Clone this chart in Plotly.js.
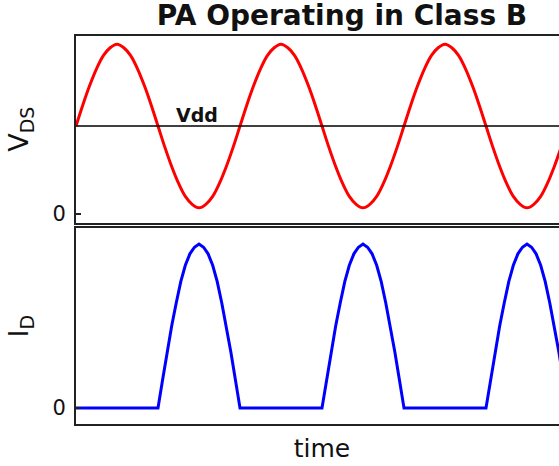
<!DOCTYPE html>
<html>
<head>
<meta charset="utf-8">
<script src="https://cdn.plot.ly/plotly-3.0.1.min.js"></script>
<style>
  html, body { margin: 0; padding: 0; overflow: hidden; background: #fff; }
  #myPlot { width: 600px; height: 466px; }
</style>
</head>
<body>
<div id="myPlot"></div>
<script>
// Time axis, in degrees of the carrier (three periods shown, 15 degree steps)
const timeDeg = [0, 15, 30, 45, 60, 75, 90, 105, 120, 135, 150, 165,
                 180, 195, 210, 225, 240, 255, 270, 285, 300, 315, 330, 345,
                 360, 375, 390, 405, 420, 435, 450, 465, 480, 495, 510, 525,
                 540, 555, 570, 585, 600, 615, 630, 645, 660, 675, 690, 705,
                 720, 735, 750, 765, 780, 795, 810, 825, 840, 855, 870, 885,
                 900, 915, 930, 945, 960, 975, 990, 1005, 1020, 1035, 1050, 1065,
                 1080];

// Drain voltage, in units of Vdd
const vdsValues = [1.00, 1.24, 1.46, 1.65, 1.80, 1.89, 1.93, 1.89, 1.80, 1.65, 1.46, 1.24,
                   1.00, 0.76, 0.54, 0.35, 0.20, 0.11, 0.07, 0.11, 0.20, 0.35, 0.54, 0.76,
                   1.00, 1.24, 1.46, 1.65, 1.80, 1.89, 1.93, 1.89, 1.80, 1.65, 1.46, 1.24,
                   1.00, 0.76, 0.54, 0.35, 0.20, 0.11, 0.07, 0.11, 0.20, 0.35, 0.54, 0.76,
                   1.00, 1.24, 1.46, 1.65, 1.80, 1.89, 1.93, 1.89, 1.80, 1.65, 1.46, 1.24,
                   1.00, 0.76, 0.54, 0.35, 0.20, 0.11, 0.07, 0.11, 0.20, 0.35, 0.54, 0.76,
                   1.00];

// Drain current (half-wave pulses, 10 degree steps on the pulses)
const idTime = [0,
                180, 190, 200, 210, 220, 230, 240, 250, 260, 270,
                280, 290, 300, 310, 320, 330, 340, 350, 360,
                540, 550, 560, 570, 580, 590, 600, 610, 620, 630,
                640, 650, 660, 670, 680, 690, 700, 710, 720,
                900, 910, 920, 930, 940, 950, 960, 970, 980, 990,
                1000, 1010, 1020, 1030, 1040, 1050, 1060, 1070, 1080];
const idValues = [0,
                  0, 0.17, 0.34, 0.50, 0.64, 0.77, 0.87, 0.94, 0.98, 1.00,
                  0.98, 0.94, 0.87, 0.77, 0.64, 0.50, 0.34, 0.17, 0,
                  0, 0.17, 0.34, 0.50, 0.64, 0.77, 0.87, 0.94, 0.98, 1.00,
                  0.98, 0.94, 0.87, 0.77, 0.64, 0.50, 0.34, 0.17, 0,
                  0, 0.17, 0.34, 0.50, 0.64, 0.77, 0.87, 0.94, 0.98, 1.00,
                  0.98, 0.94, 0.87, 0.77, 0.64, 0.50, 0.34, 0.17, 0];

const VDD_LEVEL = 1;
const FONT = 'DejaVu Sans, Verdana, sans-serif';
const INK = '#111';

const frame = {
    showline: true, mirror: true, linecolor: '#222', linewidth: 2,
    showgrid: false, zeroline: false
};

const traces = [
    {
        x: timeDeg, y: vdsValues, xaxis: 'x2', yaxis: 'y2',
        mode: 'lines', line: { color: '#ff0000', width: 3, shape: 'spline', smoothing: 1 },
        hoverinfo: 'skip'
    },
    {
        x: idTime, y: idValues, xaxis: 'x', yaxis: 'y',
        mode: 'lines', line: { color: '#0000ff', width: 3 },
        hoverinfo: 'skip'
    }
];

const layout = {
    width: 600,
    height: 466,
    margin: { l: 76, r: 32, t: 36, b: 42 },
    paper_bgcolor: '#fff',
    plot_bgcolor: '#fff',
    showlegend: false,
    font: { family: FONT, color: INK },
    title: {
        text: '<b>PA Operating in Class B</b>',
        font: { family: FONT, size: 28, color: INK },
        xref: 'container', x: 342 / 600, xanchor: 'center',
        yref: 'container', y: 1 - 15 / 466, yanchor: 'middle'
    },
    xaxis: Object.assign({}, frame, {
        domain: [0, 1], anchor: 'y', range: [0, 1080],
        showticklabels: false, ticks: '',
        title: { text: 'time', font: { size: 25 }, standoff: 14 }
    }),
    xaxis2: Object.assign({}, frame, {
        domain: [0, 1], anchor: 'y2', matches: 'x', range: [0, 1080],
        showticklabels: false, ticks: ''
    }),
    yaxis: Object.assign({}, frame, {
        domain: [0, 0.5039], range: [-0.0976, 1.0945],
        tickvals: [0], ticktext: ['0'], ticks: 'inside', ticklen: 5, tickwidth: 1.5, tickcolor: '#222',
        tickfont: { size: 21 }, ticklabelstandoff: 4,
        title: { text: 'I<sub>D</sub>', font: { size: 27 }, standoff: 16 }
    }),
    yaxis2: Object.assign({}, frame, {
        domain: [0.5193, 1], range: [-0.0966, 2.023],
        tickvals: [0], ticktext: ['0'], ticks: 'inside', ticklen: 5, tickwidth: 1.5, tickcolor: '#222',
        tickfont: { size: 21 }, ticklabelstandoff: 4,
        title: { text: 'V<sub>DS</sub>', font: { size: 27 }, standoff: 16 }
    }),
    shapes: [
        {
            type: 'line', xref: 'x2 domain', yref: 'y2',
            x0: 0, x1: 1, y0: VDD_LEVEL, y1: VDD_LEVEL,
            line: { color: '#000', width: 1.5 }
        }
    ],
    annotations: [
        {
            text: '<b>Vdd</b>', xref: 'x2', yref: 'y2',
            x: 265, y: VDD_LEVEL, xanchor: 'center', yanchor: 'bottom',
            showarrow: false, yshift: -2,
            font: { family: FONT, size: 19, color: INK }
        }
    ]
};

Plotly.newPlot('myPlot', traces, layout, { displayModeBar: false, staticPlot: true });
</script>
</body>
</html>
